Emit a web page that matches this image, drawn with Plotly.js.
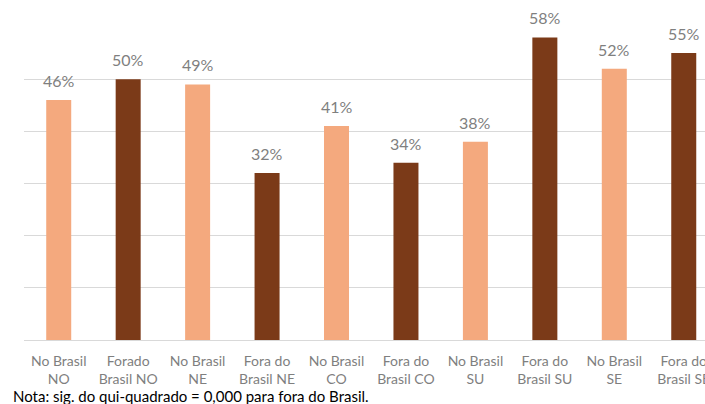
<!DOCTYPE html>
<html>
<head>
<meta charset="utf-8">
<script src="https://cdn.plot.ly/plotly-3.0.1.min.js"></script>
<style>html,body{margin:0;padding:0;overflow:hidden;background:#fff}#chart{width:705px;height:404px}</style>
</head>
<body>
<div id="chart"></div>
<script>
const categories = [
  "No Brasil<br>NO", "Forado<br>Brasil NO",
  "No Brasil<br>NE", "Fora do<br>Brasil NE",
  "No Brasil<br>CO", "Fora do<br>Brasil CO",
  "No Brasil<br>SU", "Fora do<br>Brasil SU",
  "No Brasil<br>SE", "Fora do<br>Brasil SE"
];
const values = [0.46, 0.50, 0.49, 0.32, 0.41, 0.34, 0.38, 0.58, 0.52, 0.55];
const residence = ["No", "Fora", "No", "Fora", "No", "Fora", "No", "Fora", "No", "Fora"];
const note = "Nota: sig. do qui-quadrado = 0,000 para fora do Brasil.";

const colorFor = {No: "#F4A97E", Fora: "#7B3A18"};
const FONT = "Lato, 'Open Sans', sans-serif";

const trace = {
  type: "bar",
  x: categories,
  y: values,
  marker: {color: residence.map(l => colorFor[l])},
  hoverinfo: "skip"
};

const labelAnnotations = values.map((v, i) => ({
  x: categories[i], y: v, xref: "x", yref: "y",
  text: Math.round(v * 100) + "%",
  xanchor: "center", yanchor: "bottom", yshift: 8,
  showarrow: false,
  font: {family: FONT, size: 16, color: "#7F7F7F"}
}));

const layout = {
  width: 705, height: 404,
  margin: {l: 24, r: 0, t: 27, b: 64, pad: 0},
  paper_bgcolor: "#fff", plot_bgcolor: "#fff",
  bargap: 0.64,
  showlegend: false,
  font: {family: FONT},
  xaxis: {
    type: "category",
    range: [-0.5, 9.306],
    showgrid: false, showline: false, zeroline: false,
    ticks: "", tickfont: {family: FONT, size: 14, color: "#7F7F7F"},
    ticklabelstandoff: 11,
    tickangle: 0, automargin: false
  },
  yaxis: {
    range: [0, 0.6], dtick: 0.1,
    showgrid: true, gridcolor: "#D9D9D9", gridwidth: 1,
    zeroline: true, zerolinecolor: "#D9D9D9", zerolinewidth: 1,
    showticklabels: false, ticks: "", automargin: false
  },
  annotations: labelAnnotations.concat([{
    text: note, xref: "paper", yref: "paper",
    x: -0.0176, y: -0.1789, xanchor: "left", yanchor: "middle",
    borderpad: 0,
    showarrow: false, font: {family: FONT, size: 15, color: "#000"}
  }])
};

Plotly.newPlot("chart", [trace], layout, {displayModeBar: false, staticPlot: true});
</script>
</body>
</html>
